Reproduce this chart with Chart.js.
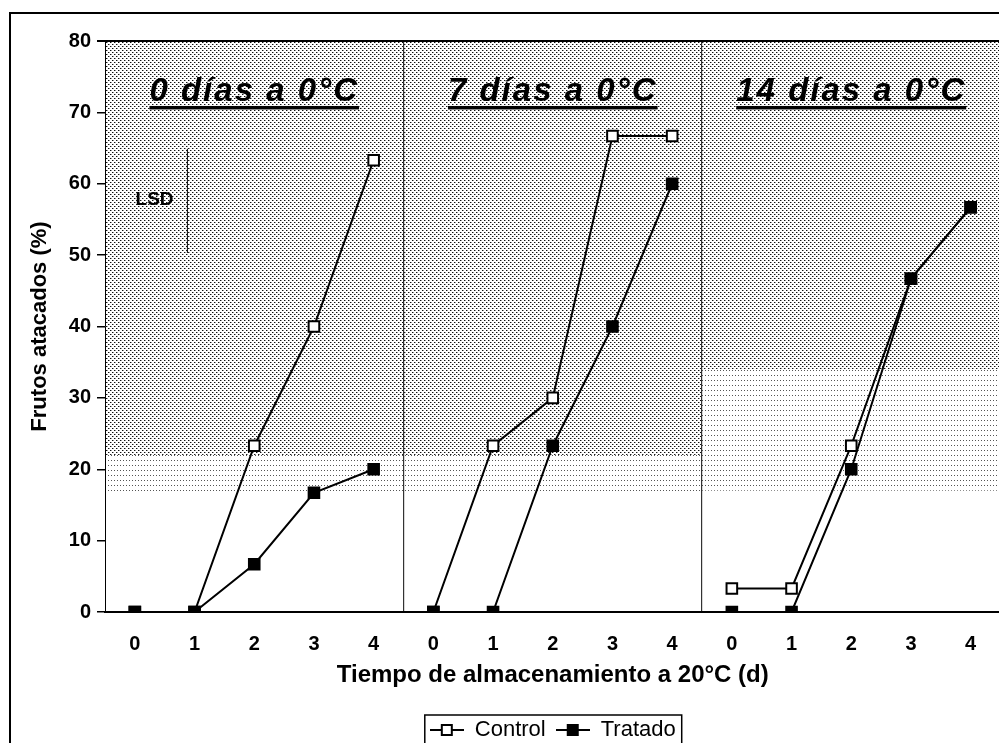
<!DOCTYPE html>
<html>
<head>
<meta charset="utf-8">
<script src="https://cdn.jsdelivr.net/npm/chart.js@4/dist/chart.umd.min.js"></script>
<style>
  html, body { margin: 0; padding: 0; background: #fff; overflow: hidden; }
  #wrap { position: absolute; left: 0; top: 0; }
</style>
</head>
<body>
<div id="wrap"><canvas id="myChart" width="1010" height="743"></canvas></div>
<script>
// datos
const categories = ['0', '1', '2', '3', '4'];
const panelTitles = ['0 días a 0°C', '7 días a 0°C', '14 días a 0°C'];
const seriesNames = ['Control', 'Tratado'];

const control0 = [0, 0, 23.3, 40, 63.3];
const control7 = [0, 23.3, 30, 66.7, 66.7];
const control14 = [3.3, 3.3, 23.3, 46.7, 56.7];

const tratado0 = [0, 0, 6.7, 16.7, 20];
const tratado7 = [0, 0, 23.3, 40, 60];
const tratado14 = [0, 0, 20, 46.7, 56.7];

const yTicks = [0, 10, 20, 30, 40, 50, 60, 70, 80];
const lsdTop = 64.9, lsdBottom = 50.3;

const xTitle = 'Tiempo de almacenamiento a 20°C (d)';
const yTitle = 'Frutos atacados (%)';

Chart.defaults.font.family = '"Liberation Sans", Arial, sans-serif';
Chart.defaults.color = '#000';

const labels = [...categories, ...categories, ...categories];
const controlData = [...control0, ...control7, ...control14];
const tratadoData = [...tratado0, ...tratado7, ...tratado14];

const LEGEND_FONT = 22, LEGEND_PAD = 10, PAD_BOTTOM = -8;

// simbolo de leyenda: linea con cuadrado
function legendSymbol(filled) {
  const c = document.createElement('canvas');
  c.width = 34; c.height = 14;
  const g = c.getContext('2d');
  g.strokeStyle = '#000'; g.lineWidth = 2;
  g.beginPath(); g.moveTo(0, 7); g.lineTo(34, 7); g.stroke();
  g.fillStyle = filled ? '#000' : '#fff';
  g.fillRect(12, 2, 10, 10);
  g.strokeRect(12, 2, 10, 10);
  return c;
}

function makePattern(ctx, w, h, dots) {
  const c = document.createElement('canvas');
  c.width = w; c.height = h;
  const g = c.getContext('2d');
  g.fillStyle = '#fff'; g.fillRect(0, 0, w, h);
  dots.forEach(d => { g.fillStyle = d[2]; g.fillRect(d[0], d[1], 1, 1); });
  return ctx.createPattern(c, 'repeat');
}

const panelPlugin = {
  id: 'panels',
  beforeDraw(chart) {
    const {ctx, chartArea: a, scales: {x, y}} = chart;
    const dense = makePattern(ctx, 4, 4, [[0,0,'#111'],[1,0,'#999'],[2,2,'#111'],[3,2,'#999']]);
    const sparse = makePattern(ctx, 3, 5, [[0,0,'#555']]);
    // bandas de sombreado por panel: [limite denso, limite ralo]
    const bands = [[22, 16.5], [22, 16.5], [34, 17]];
    ctx.save();
    ctx.fillStyle = '#fff';
    ctx.fillRect(a.left, a.top, a.right - a.left, a.bottom - a.top);
    bands.forEach((b, i) => {
      const l = i === 0 ? a.left : x.getPixelForValue(i * 5 - 0.5);
      const r = i === 2 ? a.right : x.getPixelForValue(i * 5 + 4.5);
      ctx.fillStyle = dense;
      ctx.fillRect(l, a.top, r - l, y.getPixelForValue(b[0]) - a.top);
      ctx.fillStyle = sparse;
      ctx.fillRect(l, y.getPixelForValue(b[0]), r - l, y.getPixelForValue(b[1]) - y.getPixelForValue(b[0]));
    });
    ctx.restore();
  },
  afterDraw(chart) {
    const {ctx, chartArea: a, scales: {x, y}} = chart;
    ctx.save();
    // marco exterior
    ctx.strokeStyle = '#000'; ctx.lineWidth = 2;
    ctx.strokeRect(10, 13, 1200, 1200);
    // borde superior del area
    ctx.beginPath(); ctx.moveTo(a.left - 8, a.top); ctx.lineTo(a.right, a.top); ctx.stroke();

    // titulos de panel
    ctx.font = 'italic bold 33px "Liberation Sans", Arial, sans-serif';
    ctx.letterSpacing = '2px';
    ctx.textAlign = 'center'; ctx.textBaseline = 'alphabetic';
    panelTitles.forEach((t, i) => {
      const cx = x.getPixelForValue(i * 5 + 2);
      const ty = y.getPixelForValue(71.6);
      ctx.fillStyle = '#000';
      ctx.fillText(t, cx, ty);
      const w = ctx.measureText(t).width;
      ctx.fillRect(cx - w / 2, ty + 5, w, 3.5);
    });
    ctx.letterSpacing = '0px';

    // LSD
    ctx.font = 'bold 19px "Liberation Sans", Arial, sans-serif';
    ctx.textBaseline = 'middle';
    ctx.fillText('LSD', x.getPixelForValue(0.33), y.getPixelForValue(57.8));
    const lx = x.getPixelForValue(0.88);
    ctx.lineWidth = 1;
    ctx.beginPath(); ctx.moveTo(lx, y.getPixelForValue(lsdTop)); ctx.lineTo(lx, y.getPixelForValue(lsdBottom)); ctx.stroke();

    // caja de leyenda
    const hb = chart.legend.legendHitBoxes;
    if (hb && hb.length) {
      const last = hb[hb.length - 1];
      const mid = hb[0].top + hb[0].height / 2;
      const l = hb[0].left - 5, r = last.left + last.width + 6;
      ctx.lineWidth = 1.5;
      ctx.strokeRect(l, mid - 15, r - l, 32);
    }
    ctx.restore();
  }
};

new Chart(document.getElementById('myChart'), {
  type: 'line',
  data: {
    labels: labels,
    datasets: [{
      label: seriesNames[0],
      data: controlData,
      order: 1,
      borderColor: '#000',
      borderWidth: 2,
      pointStyle: 'rect',
      pointRadius: 7.5,
      pointBorderWidth: 2,
      pointBackgroundColor: '#fff',
      pointBorderColor: '#000',
      segment: { borderColor: c => (c.p0DataIndex % 5 === 4) ? 'rgba(0,0,0,0)' : '#000' }
    }, {
      label: seriesNames[1],
      data: tratadoData,
      order: 0,
      borderColor: '#000',
      borderWidth: 2,
      pointStyle: 'rect',
      pointRadius: 7.5,
      pointBorderWidth: 2,
      pointBackgroundColor: '#000',
      pointBorderColor: '#000',
      segment: { borderColor: c => (c.p0DataIndex % 5 === 4) ? 'rgba(0,0,0,0)' : '#000' }
    }]
  },
  options: {
    responsive: false,
    animation: false,
    layout: { padding: { left: 0, top: 41, right: 5, bottom: PAD_BOTTOM } },
    plugins: {
      tooltip: { enabled: false },
      legend: {
        position: 'bottom',
        fullSize: false,
        labels: {
          usePointStyle: true,
          pointStyleWidth: 34,
          padding: LEGEND_PAD,
          font: { size: LEGEND_FONT },
          sort: (a, b) => a.datasetIndex - b.datasetIndex,
          generateLabels: (chart) => {
            const items = Chart.defaults.plugins.legend.labels.generateLabels(chart);
            items.forEach(it => { it.pointStyle = legendSymbol(it.datasetIndex === 1); });
            return items;
          }
        }
      }
    },
    scales: {
      x: {
        type: 'category',
        offset: true,
        afterFit: s => { s.height = 743 - PAD_BOTTOM - 612 - (LEGEND_FONT + LEGEND_PAD + 10); },
        grid: {
          offset: true,
          drawTicks: false,
          lineWidth: 1.2,
          color: c => (c.index === 5 || c.index === 10) ? '#333' : 'rgba(0,0,0,0)'
        },
        border: { display: true, color: '#000', width: 2 },
        ticks: { padding: 20, font: { size: 20, weight: 'bold' }, maxRotation: 0, autoSkip: false },
        title: {
          display: true,
          text: xTitle,
          font: { size: 24, weight: 'bold' },
          padding: { top: 4, bottom: 19 }
        }
      },
      y: {
        min: 0,
        max: 80,
        afterFit: s => { s.width = 105; },
        afterBuildTicks: s => { s.ticks = yTicks.map(v => ({ value: v })); },
        grid: { drawOnChartArea: false, drawTicks: true, tickLength: 8, color: '#000', lineWidth: 1.5 },
        border: { display: true, color: '#000', width: 1 },
        ticks: { padding: 6, font: { size: 20, weight: 'bold' } },
        title: {
          display: true,
          text: yTitle,
          font: { size: 22, weight: 'bold' },
          padding: { top: 27 }
        }
      }
    }
  },
  plugins: [panelPlugin]
});
</script>
</body>
</html>
